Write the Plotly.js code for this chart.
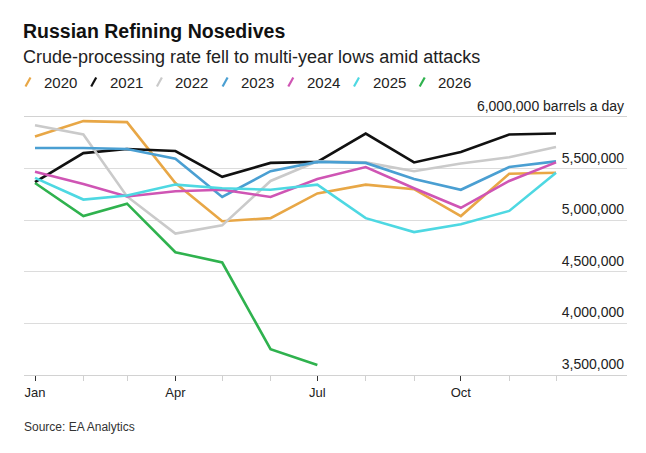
<!DOCTYPE html>
<html>
<head>
<meta charset="utf-8">
<script src="https://cdn.plot.ly/plotly-3.0.1.min.js"></script>
<style>
  html, body { margin: 0; padding: 0; background: #fff; }
  #chart { width: 646px; height: 453px; }
</style>
</head>
<body>
<div id="chart"></div>
<script>
// ---- data ----
const months = ['2021-01-01','2021-02-01','2021-03-01','2021-04-01','2021-05-01','2021-06-01',
                '2021-07-01','2021-08-01','2021-09-01','2021-10-01','2021-11-01','2021-12-01'];
const majorTickDates = ['2021-01-01','2021-04-01','2021-07-01','2021-10-01'];
const majorTickLabels = ['Jan','Apr','Jul','Oct'];
const minorTickDates = ['2021-02-01','2021-03-01','2021-05-01','2021-06-01','2021-08-01','2021-09-01','2021-11-01','2021-12-01'];

const yTickVals = [3500000, 4000000, 4500000, 5000000, 5500000, 6000000];
const yTickText = ['3,500,000','4,000,000','4,500,000','5,000,000','5,500,000','6,000,000 barrels a day'];

const years = ['2020','2021','2022','2023','2024','2025','2026'];
const s2020 = [5810000, 5960000, 5950000, 5360000, 4990000, 5020000, 5260000, 5345000, 5300000, 5040000, 5450000, 5460000];
const s2021 = [5370000, 5650000, 5690000, 5670000, 5420000, 5555000, 5565000, 5840000, 5560000, 5660000, 5830000, 5840000];
const s2022 = [5920000, 5830000, 5230000, 4870000, 4950000, 5380000, 5570000, 5560000, 5475000, 5550000, 5610000, 5710000];
const s2023 = [5700000, 5700000, 5690000, 5595000, 5225000, 5475000, 5565000, 5555000, 5400000, 5295000, 5515000, 5570000];
const s2024 = [5470000, 5350000, 5230000, 5280000, 5295000, 5225000, 5400000, 5515000, 5310000, 5120000, 5380000, 5560000];
const s2025 = [5410000, 5200000, 5240000, 5345000, 5310000, 5295000, 5345000, 5020000, 4885000, 4960000, 5090000, 5460000];
const s2026 = [5360000, 5040000, 5160000, 4690000, 4590000, 3750000, 3597000];

const titleText = 'Russian Refining Nosedives';
const subtitleText = 'Crude-processing rate fell to multi-year lows amid attacks';
const sourceText = 'Source: EA Analytics';

// ---- styles ----
const colors = ['#e8a746', '#111111', '#cacaca', '#4a9fd2', '#cf55b4', '#4ed8e2', '#2fb24e'];
const seriesList = [s2020, s2021, s2022, s2023, s2024, s2025, s2026];
const FONT = '"Liberation Sans", Arial, Helvetica, sans-serif';

const traces = seriesList.map((vals, i) => ({
  type: 'scatter',
  mode: 'lines',
  name: years[i],
  x: months.slice(0, vals.length),
  y: vals,
  line: { color: colors[i], width: 2.6 },
  hoverinfo: 'x+y+name',
  showlegend: false
}));

// plot area in pixels
const L = 24, R = 627, T = 117, B = 375;
const px2paperX = px => (px - L) / (R - L);
const px2paperY = py => (B - py) / (B - T);

const annotations = [
  { text: '<b>' + titleText + '</b>', xref: 'paper', yref: 'paper', x: px2paperX(21), y: px2paperY(31),
    xanchor: 'left', yanchor: 'middle', showarrow: false, font: { family: FONT, size: 19.5, color: '#111' } },
  { text: subtitleText, xref: 'paper', yref: 'paper', x: px2paperX(21), y: px2paperY(57),
    xanchor: 'left', yanchor: 'middle', showarrow: false, font: { family: FONT, size: 18, color: '#222' } },
  { text: sourceText, xref: 'paper', yref: 'paper', x: px2paperX(22), y: px2paperY(427),
    xanchor: 'left', yanchor: 'middle', showarrow: false, font: { family: FONT, size: 12, color: '#333' } }
];
const shapes = [];
const legendY = 82;
years.forEach((yr, i) => {
  const cx = 28 + i * 65.7;
  shapes.push({
    type: 'line', xref: 'paper', yref: 'paper',
    xsizemode: 'pixel', ysizemode: 'pixel',
    xanchor: px2paperX(cx), yanchor: px2paperY(legendY),
    x0: -2.5, x1: 2.5, y0: -4.5, y1: 4.5,
    line: { color: colors[i], width: 2.2 }
  });
  annotations.push({
    text: yr, xref: 'paper', yref: 'paper', x: px2paperX(cx + 14), y: px2paperY(legendY),
    xanchor: 'left', yanchor: 'middle', showarrow: false,
    font: { family: FONT, size: 15, color: '#222' }
  });
});

const layout = {
  width: 646, height: 453,
  margin: { l: L, r: 646 - R, t: T, b: 453 - B, pad: 0 },
  paper_bgcolor: '#fff', plot_bgcolor: '#fff',
  font: { family: FONT, color: '#222' },
  showlegend: false,
  xaxis: {
    type: 'date',
    range: ['2020-12-24 22:48', '2022-01-15 12:00'],
    tickmode: 'array', tickvals: majorTickDates, ticktext: majorTickLabels,
    ticks: 'outside', ticklen: 5, tickcolor: '#333', tickwidth: 1,
    tickfont: { family: FONT, size: 13, color: '#222' },
    showgrid: false, zeroline: false,
    showline: true, mirror: true, linecolor: '#d2d2d2', linewidth: 1,
    minor: { tickmode: 'array', tickvals: minorTickDates, ticks: 'outside', ticklen: 5, tickcolor: '#d0d0d0', tickwidth: 1, showgrid: false },
    fixedrange: true
  },
  yaxis: {
    range: [3500000, 6000000],
    side: 'right',
    tickmode: 'array', tickvals: yTickVals, ticktext: yTickText,
    ticklabelposition: 'inside',
    ticklabeloverflow: 'allow',
    ticklabelshift: -11,
    ticklabelstandoff: 0,
    ticks: '',
    tickfont: { family: FONT, size: 14, color: '#222' },
    showgrid: true, gridcolor: '#dcdcdc', gridwidth: 1,
    zeroline: false, showline: false,
    fixedrange: true
  },
  annotations: annotations,
  shapes: shapes
};

Plotly.newPlot('chart', traces, layout, { displayModeBar: false, staticPlot: true });
</script>
</body>
</html>
